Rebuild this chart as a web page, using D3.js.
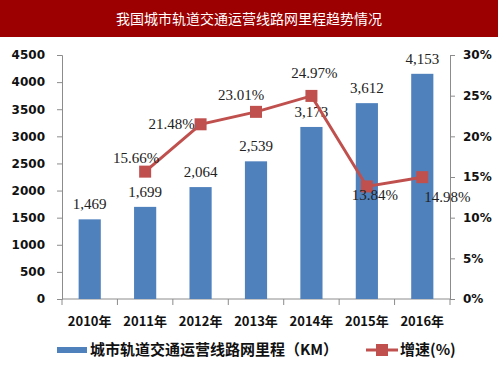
<!DOCTYPE html>
<html>
<head>
<meta charset="utf-8">
<script src="https://cdn.jsdelivr.net/npm/d3@7"></script>
<style>
  body { margin: 0; background: #fff; }
  svg { display: block; }
  .tick text { font-family: Tahoma, "DejaVu Sans", sans-serif; font-weight: bold; font-size: 12px; fill: #111; }
  .axis path, .axis line { stroke: #8c8c8c; }
  .lbl { font-family: "Liberation Serif", "Times New Roman", serif; font-size: 15px; fill: #222; }
  .cjk { font-family: "Noto Sans CJK SC", sans-serif; font-weight: bold; fill: #111; }
</style>
</head>
<body>
<svg width="500" height="375"></svg>
<script>
var years = ["2010年", "2011年", "2012年", "2013年", "2014年", "2015年", "2016年"];
var mileage = [1469, 1699, 2064, 2539, 3173, 3612, 4153];
var growth = [null, 15.66, 21.48, 23.01, 24.97, 13.84, 14.98];
var leftTicks = [0, 500, 1000, 1500, 2000, 2500, 3000, 3500, 4000, 4500];
var rightTicks = [0, 5, 10, 15, 20, 25, 30];

var svg = d3.select("svg");
var margin = {top: 55, left: 62, right: 50, bottom: 76};
var width = 500 - margin.left - margin.right,
    height = 375 - margin.top - margin.bottom;

// title bar
svg.append("rect").attr("x", 0).attr("y", 0).attr("width", 498).attr("height", 37).attr("fill", "#9c0000");
svg.append("text").attr("x", 249).attr("y", 24).attr("text-anchor", "middle")
    .attr("fill", "#fff").style("font-family", "'Noto Sans CJK SC', sans-serif").style("font-size", "14px")
    .text("我国城市轨道交通运营线路网里程趋势情况");

var g = svg.append("g").attr("transform", "translate(" + margin.left + "," + margin.top + ")");

var x = d3.scaleBand().domain(years).range([0, width]);
var y = d3.scaleLinear().domain([0, 4500]).range([height, 0]);
var y2 = d3.scaleLinear().domain([0, 30]).range([height, 0]);

g.append("g").attr("class", "axis")
    .call(d3.axisLeft(y).tickValues(leftTicks).tickSize(5).tickPadding(12).tickFormat(d3.format("d")));

g.append("g").attr("class", "axis").attr("transform", "translate(" + width + ",0)")
    .call(d3.axisRight(y2).tickValues(rightTicks).tickSize(5).tickPadding(8).tickFormat(function(d) { return d + "%"; }));

// bottom axis with ticks at band edges
var xa = g.append("g").attr("class", "axis").attr("transform", "translate(0," + height + ")");
xa.append("line").attr("x1", 0).attr("x2", width).attr("stroke", "#8c8c8c");
xa.selectAll(".edge").data(years.concat(["end"])).enter().append("line")
    .attr("x1", function(d, i) { return i * x.bandwidth(); })
    .attr("x2", function(d, i) { return i * x.bandwidth(); })
    .attr("y1", 0).attr("y2", 6).attr("stroke", "#8c8c8c");
xa.selectAll(".xl").data(years).enter().append("text").attr("class", "cjk")
    .attr("x", function(d) { return x(d) + x.bandwidth() / 2; })
    .attr("y", 27).attr("text-anchor", "middle").style("font-size", "13px")
    .text(function(d) { return d; });

// bars
var bw = x.bandwidth() * 0.4;
g.selectAll(".bar").data(mileage).enter().append("rect")
    .attr("x", function(d, i) { return x(years[i]) + (x.bandwidth() - bw) / 2; })
    .attr("y", function(d) { return y(d); })
    .attr("width", bw)
    .attr("height", function(d) { return height - y(d); })
    .attr("fill", "#4f81bd");

g.selectAll(".blbl").data(mileage).enter().append("text").attr("class", "lbl")
    .attr("x", function(d, i) { return x(years[i]) + x.bandwidth() / 2; })
    .attr("y", function(d) { return y(d) - 10; })
    .attr("text-anchor", "middle")
    .text(function(d) { return d3.format(",")(d); });

// line
var pts = growth.map(function(d, i) { return {v: d, i: i}; }).filter(function(d) { return d.v != null; });
var line = d3.line()
    .x(function(d) { return x(years[d.i]) + x.bandwidth() / 2; })
    .y(function(d) { return y2(d.v); });
g.append("path").datum(pts).attr("d", line).attr("fill", "none").attr("stroke", "#c0504d").attr("stroke-width", 3);
g.selectAll(".pt").data(pts).enter().append("rect")
    .attr("x", function(d) { return x(years[d.i]) + x.bandwidth() / 2 - 6; })
    .attr("y", function(d) { return y2(d.v) - 6; })
    .attr("width", 12).attr("height", 12).attr("fill", "#c0504d");

var offs = {1: [-9, -9], 2: [-29, 5], 3: [-15, -12], 4: [3, -18], 5: [8, 14], 6: [25, 25]};
g.selectAll(".plbl").data(pts).enter().append("text").attr("class", "lbl")
    .attr("x", function(d) { return x(years[d.i]) + x.bandwidth() / 2 + offs[d.i][0]; })
    .attr("y", function(d) { return y2(d.v) + offs[d.i][1]; })
    .attr("text-anchor", "middle")
    .text(function(d) { return d.v.toFixed(2) + "%"; });

// legend
var lg = svg.append("g").attr("transform", "translate(0,350)");
lg.append("rect").attr("x", 57).attr("y", -3).attr("width", 30).attr("height", 6).attr("fill", "#4f81bd");
lg.append("text").attr("class", "cjk").attr("x", 90).attr("y", 5).style("font-size", "15px")
    .text("城市轨道交通运营线路网里程（KM）");
lg.append("line").attr("x1", 366).attr("x2", 398).attr("y1", 0).attr("y2", 0).attr("stroke", "#c0504d").attr("stroke-width", 3);
lg.append("rect").attr("x", 376).attr("y", -6).attr("width", 12).attr("height", 12).attr("fill", "#c0504d");
lg.append("text").attr("class", "cjk").attr("x", 400).attr("y", 5).style("font-size", "15px")
    .text("增速(%)");
</script>
</body>
</html>
